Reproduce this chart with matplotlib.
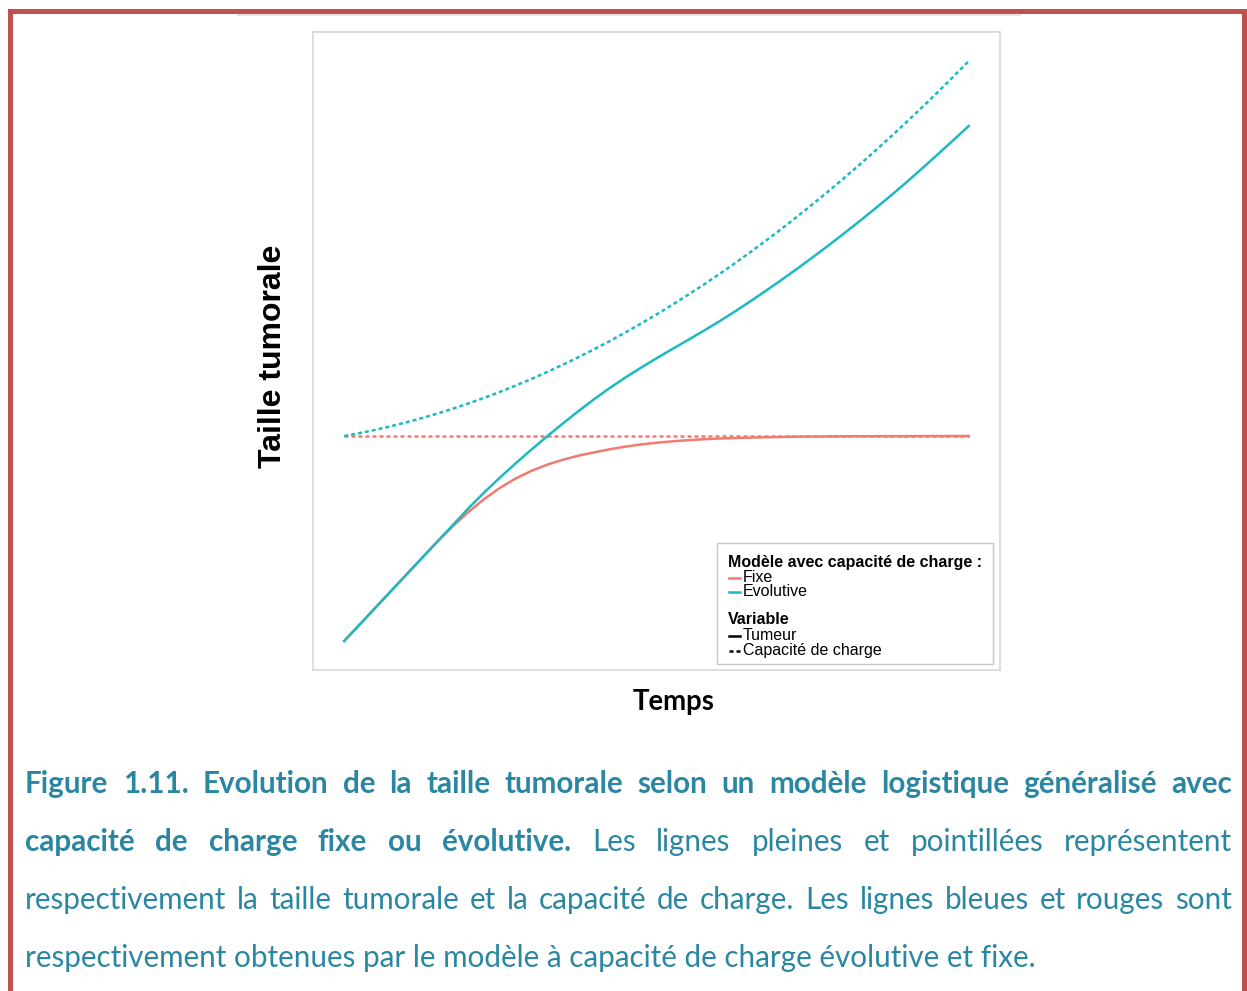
import matplotlib
matplotlib.use('Agg')
import matplotlib.pyplot as plt
from matplotlib.lines import Line2D
from matplotlib.patches import Rectangle

W, H, DPI = 1247, 991, 100

# ---- data (arbitrary units) ----
temps = [0, 2.5, 5, 7.5, 10, 12.5, 15, 17.5, 20, 22.5, 25, 27.5, 30, 32.5, 35, 37.5, 40,
         42.5, 45, 47.5, 50, 52.5, 55, 57.5, 60, 62.5, 65, 67.5, 70, 72.5, 75, 77.5, 80,
         82.5, 85, 87.5, 90, 92.5, 95, 97.5, 100]
tumeur_fixe = [0, 2.875, 5.75, 8.625, 11.5, 14.375, 17.22, 19.9, 22.35, 24.55, 26.45, 28.05,
               29.35, 30.4, 31.25, 31.95, 32.52, 33.05, 33.5, 33.88, 34.18, 34.42, 34.62,
               34.78, 34.9, 35.0, 35.07, 35.13, 35.18, 35.22, 35.25, 35.27, 35.29, 35.3,
               35.31, 35.32, 35.32, 35.33, 35.33, 35.34, 35.34]
capacite_fixe = [35.34] * 41
tumeur_evol = [0, 2.875, 5.75, 8.625, 11.5, 14.375, 17.25, 20.125, 23.0, 25.7, 28.25,
               30.68, 33.03, 35.3, 37.5, 39.63, 41.68, 43.61, 45.41, 47.11, 48.74, 50.32,
               51.87, 53.45, 55.07, 56.77, 58.55, 60.37, 62.25, 64.17, 66.15, 68.17, 70.25,
               72.37, 74.55, 76.77, 79.07, 81.45, 83.87, 86.32, 88.8]
capacite_evol = [35.34, 35.85, 36.41, 37.04, 37.71, 38.45, 39.24, 40.09, 41.0, 41.96, 42.98,
                 44.06, 45.19, 46.38, 47.63, 48.93, 50.29, 51.71, 53.18, 54.71, 56.30, 57.95,
                 59.65, 61.41, 63.22, 65.09, 67.02, 69.01, 71.05, 73.15, 75.31, 77.52, 79.79,
                 82.12, 84.5, 86.94, 89.44, 91.99, 94.6, 97.27, 100.0]

ROUGE = '#F27A71'
BLEU = '#1CB9C3'
CAPTION = '#2B87A1'
BORDER = '#C0504D'

fig = plt.figure(figsize=(W / DPI, H / DPI), dpi=DPI)
fig.patch.set_facecolor('white')
renderer = fig.canvas.get_renderer()


def fx(x):
    return x / W


def fy(y):
    return 1 - y / H


def text_width(s, **kw):
    t = fig.text(0, 0, s, **kw)
    w = t.get_window_extent(renderer).width
    t.remove()
    return w


def fit(s, target, family, weight='normal', base=20.0):
    return base * target / text_width(s, fontsize=base, family=family, weight=weight)


# ---- outer red frame ----
fig.patches.append(Rectangle((fx(9.5), fy(1010)), fx(1244) - fx(9.5), fy(10.5) - fy(1010),
                             transform=fig.transFigure, fill=False, edgecolor=BORDER,
                             linewidth=3.6, zorder=0))
fig.add_artist(Line2D([fx(238), fx(1020)], [fy(14.5), fy(14.5)], transform=fig.transFigure,
                      color='#e6e2e2', linewidth=1.5))

# ---- main axes ----
ax = fig.add_axes([fx(313), fy(670), fx(1000) - fx(313), fy(32) - fy(670)])
dash = (0, (1.6, 1.2))
lw = 1.8
ax.plot(temps, capacite_fixe, color=ROUGE, linewidth=lw, linestyle=dash)
ax.plot(temps, tumeur_fixe, color=ROUGE, linewidth=lw)
ax.plot(temps, capacite_evol, color=BLEU, linewidth=lw, linestyle=dash)
ax.plot(temps, tumeur_evol, color=BLEU, linewidth=lw)
ax.margins(0.05)
ax.set_xticks([])
ax.set_yticks([])
for sp in ax.spines.values():
    sp.set_color('#d8d8d8')
    sp.set_linewidth(1.2)

# axis titles
ysize = fit('Taille tumorale', 223, 'Liberation Sans', 'bold')
fig.text(fx(273), fy(356), 'Taille tumorale', rotation=90, ha='center', va='center',
         fontsize=ysize, fontweight='bold', family='Liberation Sans', color='black')
tsize = fit('Temps', 82, 'Lato', 'bold')
fig.text(fx(674), fy(710), 'Temps', ha='center', va='baseline',
         fontsize=tsize, fontweight='bold', family='Lato', color='black')

# ---- legend (drawn manually) ----
fig.patches.append(Rectangle((fx(717), fy(664)), fx(993) - fx(717), fy(543) - fy(664),
                             transform=fig.transFigure, facecolor='white',
                             edgecolor='#c8c8c8', linewidth=1.0, zorder=5))
lt_size = fit('Modèle avec capacité de charge :', 253, 'Liberation Sans', 'bold')
le_size = fit('Capacité de charge', 138, 'Liberation Sans')
fig.text(fx(728), fy(562), 'Modèle avec capacité de charge :', ha='left', va='center',
         fontsize=lt_size, fontweight='bold', family='Liberation Sans', zorder=6)
fig.text(fx(728), fy(620), 'Variable', ha='left', va='center',
         fontsize=lt_size, fontweight='bold', family='Liberation Sans', zorder=6)
entries = [('Fixe', ROUGE, '-', 578), ('Evolutive', BLEU, '-', 592),
           ('Tumeur', 'black', '-', 636), ('Capacité de charge', 'black', dash, 651)]
for label, col, ls, yy in entries:
    fig.add_artist(Line2D([fx(729), fx(740)], [fy(yy), fy(yy)], transform=fig.transFigure,
                          color=col, linewidth=1.8, linestyle=ls, zorder=6))
    fig.text(fx(743), fy(yy), label, ha='left', va='center', fontsize=le_size,
             family='Liberation Sans', zorder=6)

# ---- caption ----
line4 = 'respectivement obtenues par le modèle à capacité de charge évolutive et fixe.'
csize = fit(line4, 1012, 'Lato')
X0, X1 = 25, 1232


def justified(words, y):
    widths = [text_width(w, fontsize=csize, family='Lato', weight=wt) for w, wt in words]
    gap = (X1 - X0 - sum(widths)) / (len(words) - 1)
    x = X0
    for (w, wt), wd in zip(words, widths):
        fig.text(fx(x), fy(y), w, ha='left', va='baseline', fontsize=csize,
                 family='Lato', fontweight=wt, color=CAPTION)
        x += wd + gap


l1 = 'Figure 1.11. Evolution de la taille tumorale selon un modèle logistique généralisé avec'
justified([(w, 'bold') for w in l1.split()], 793)
l2b = 'capacité de charge fixe ou évolutive.'
l2r = 'Les lignes pleines et pointillées représentent'
justified([(w, 'bold') for w in l2b.split()] + [(w, 'normal') for w in l2r.split()], 851)
l3 = 'respectivement la taille tumorale et la capacité de charge. Les lignes bleues et rouges sont'
justified([(w, 'normal') for w in l3.split()], 909)
fig.text(fx(X0), fy(967), line4, ha='left', va='baseline', fontsize=csize,
         family='Lato', color=CAPTION)

fig.savefig('out.png', dpi=DPI, facecolor='white')
